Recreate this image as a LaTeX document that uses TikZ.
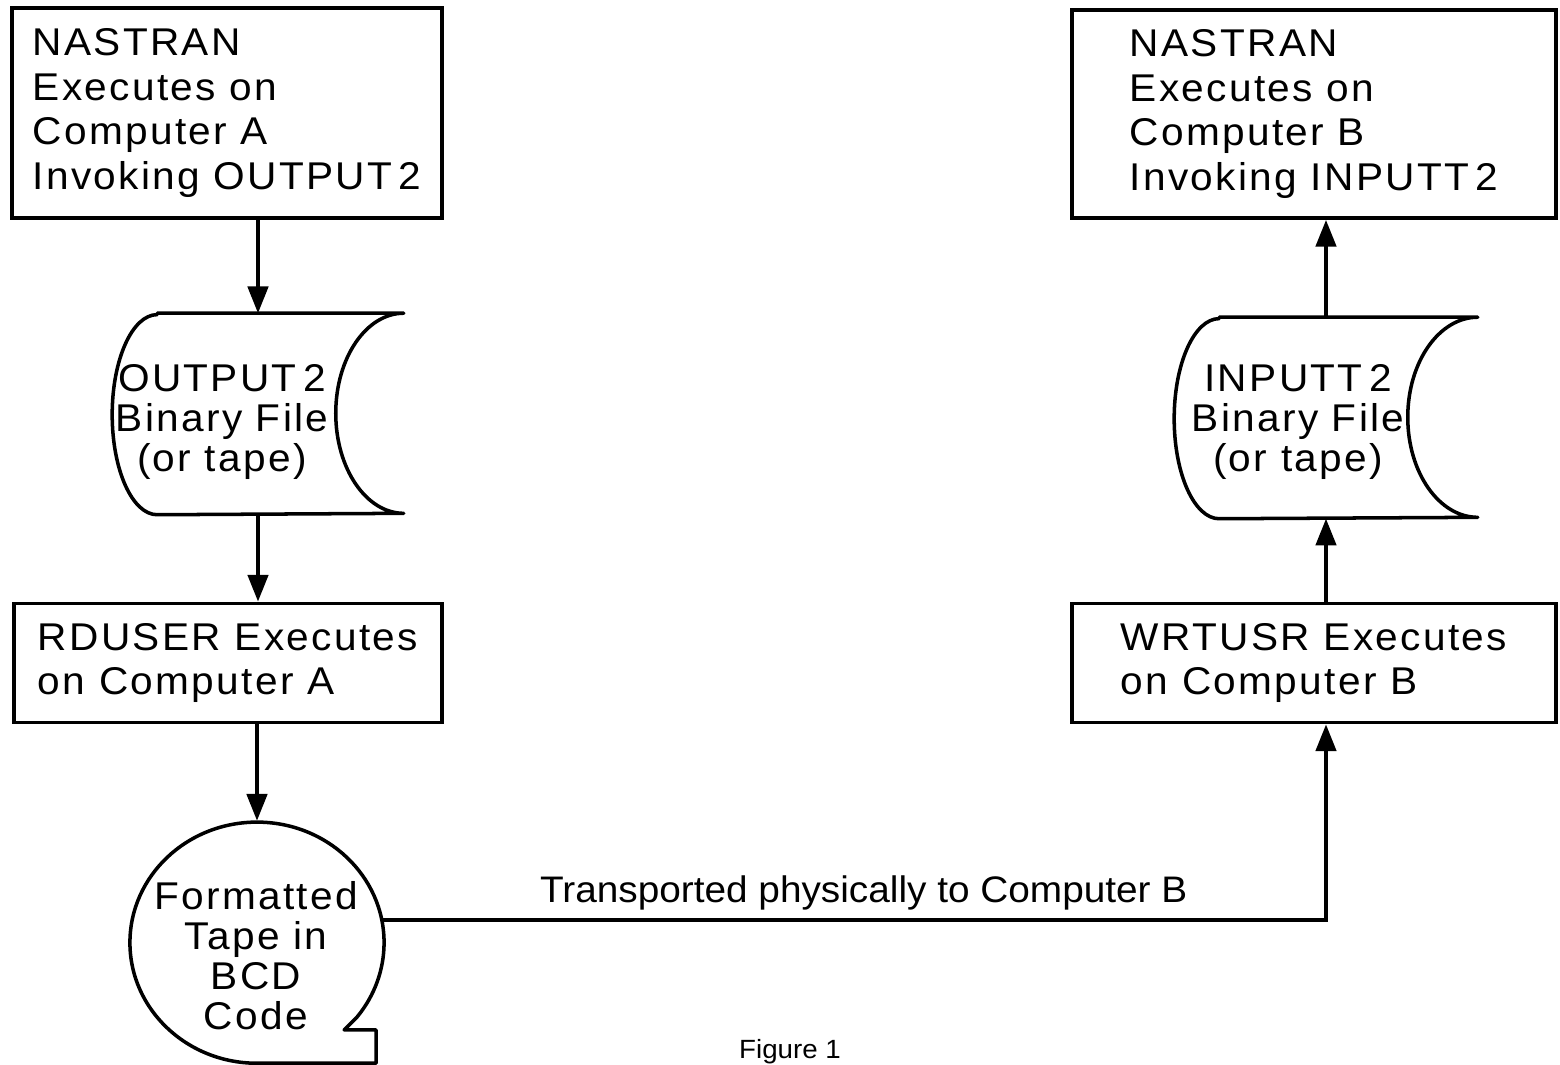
\documentclass[tikz,border=0pt]{standalone}
\usepackage{fontspec}
\setmainfont{Liberation Sans}[FakeStretch=1.05, LetterSpace=6]
\newfontfamily\labelfont{Liberation Sans}[FakeStretch=1.05]
\usetikzlibrary{positioning,arrows.meta,shapes.geometric,calc}

\begin{document}
\begin{tikzpicture}[
  x=0.01cm, y=0.01cm,
  box/.style={draw, line width=1.1pt, align=left, inner sep=0pt, font=\fontsize{11}{12.7}\selectfont},
  store/.style={inner sep=0pt, minimum height=2cm},
  storetext/.style={align=center, inner sep=0pt, font=\fontsize{11}{11.4}\selectfont},
  tapeshape/.style={ellipse, inner sep=0pt, minimum width=2.54cm, minimum height=2.41cm},
  outline/.style={line width=1pt, line join=round},
  arr/.style={line width=1pt, -{Triangle[length=7.6pt, width=5.8pt]}},
]
\useasboundingbox (0,0) rectangle (1560,1065);

\node[box, minimum width=4.30cm, minimum height=2.10cm] (nasA) at (227,952)
  {NASTRAN\\Executes on\\Computer A\\Invoking OUTPUT\,2};
\node[box, minimum width=4.84cm, minimum height=2.08cm] (nasB) at (1314,951)
  {NASTRAN\\Executes on\\Computer B\\Invoking INPUTT\,2};
\node[box, minimum width=4.28cm, minimum height=1.19cm] (rdA) at (228,402)
  {RDUSER Executes\\on Computer A};
\node[box, minimum width=4.83cm, minimum height=1.19cm] (wrB) at (1314,402)
  {WRTUSR Executes\\on Computer B};

\node[store, minimum width=2.90cm] (outA) at (258,651) {};
\draw[outline] ($(outA.north west)+(45,0)$) -- (outA.north east)
  arc[start angle=90, end angle=270, x radius=0.68cm, y radius=1cm]
  -- ($(outA.south west)+(45,0)$)
  arc[start angle=270, end angle=90, x radius=0.45cm, y radius=1cm] -- cycle;
\node[storetext] (outAtxt) at (222,643) {OUTPUT\,2\\Binary File\\(or tape)};

\node[store, minimum width=3.02cm] (inB) at (1326,647) {};
\draw[outline] ($(inB.north west)+(45,0)$) -- (inB.north east)
  arc[start angle=90, end angle=270, x radius=0.70cm, y radius=1cm]
  -- ($(inB.south west)+(45,0)$)
  arc[start angle=270, end angle=90, x radius=0.45cm, y radius=1cm] -- cycle;
\node[storetext] (inBtxt) at (1298,643) {INPUTT\,2\\Binary File\\(or tape)};

\node[tapeshape] (tape) at (257,123) {};
\draw[outline] (tape.south)
  arc[start angle=270, end angle=-38, x radius=1.27cm, y radius=1.205cm]
  -- ++(-13,-13) -- ++(32,0) |- (tape.south);
\node[storetext] (tapetxt) at (256,109) {Formatted\\Tape in\\BCD\\Code};

\draw[arr] (nasA.south -| outA) -- (outA.north);
\draw[arr] (outA.south) -- (rdA.north -| outA);
\draw[arr] (rdA.south -| tape) -- (tape.north);
\draw[arr] (tape.10) -| (wrB.south -| inB.south)
  node[pos=0.255, above=-1pt, font=\labelfont\fontsize{10.5}{12}\selectfont] (transp) {Transported physically to Computer B};
\draw[arr] (wrB.north -| inB) -- (inB.south);
\draw[arr] (inB.north) -- (nasB.south -| inB);

\node[anchor=base, font=\labelfont\fontsize{7.5}{9}\selectfont] (fig) at (790,6) {Figure 1};
\end{tikzpicture}
\end{document}
